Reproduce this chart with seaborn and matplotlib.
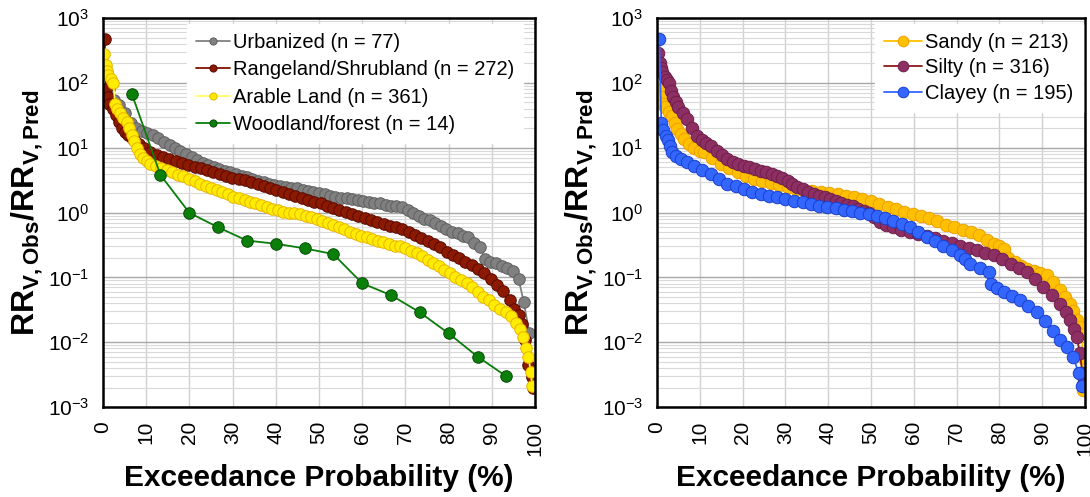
import matplotlib
matplotlib.use("Agg")
import matplotlib.pyplot as plt
import seaborn as sns
import pandas as pd

# ---------------- land use ----------------
urban_p = [1.3, 2.6, 3.8, 5.1, 6.4, 7.7, 9.0, 10.3, 11.5, 12.8, 14.1, 15.4, 16.7, 17.9,
           19.2, 20.5, 21.8, 23.1, 24.4, 25.6, 26.9, 28.2, 29.5, 30.8, 32.1, 33.3, 34.6,
           35.9, 37.2, 38.5, 39.7, 41.0, 42.3, 43.6, 44.9, 46.2, 47.4, 48.7, 50.0, 51.3,
           52.6, 53.8, 55.1, 56.4, 57.7, 59.0, 60.3, 61.5, 62.8, 64.1, 65.4, 66.7, 67.9,
           69.2, 70.5, 71.8, 73.1, 74.4, 75.6, 76.9, 78.2, 79.5, 80.8, 82.1, 83.3, 84.6,
           85.9, 87.2, 88.5, 89.7, 91.0, 92.3, 93.6, 94.9, 96.2, 97.4, 98.7]
urban_r = [80, 55, 45, 34, 24, 20, 18, 17, 15.5, 14, 12.3, 11, 10, 8.8,
           7.9, 7.1, 6.5, 5.9, 5.4, 5.0, 4.7, 4.4, 4.15, 3.95, 3.7, 3.5, 3.3,
           3.1, 2.95, 2.8, 2.7, 2.6, 2.5, 2.42, 2.35, 2.25, 2.15, 2.08, 2.0, 1.9,
           1.8, 1.75, 1.7, 1.65, 1.6, 1.55, 1.5, 1.46, 1.42, 1.38, 1.33, 1.28, 1.25,
           1.2, 1.08, 0.98, 0.88, 0.8, 0.76, 0.7, 0.62, 0.55, 0.5, 0.48, 0.44, 0.42,
           0.34, 0.29, 0.19, 0.175, 0.165, 0.15, 0.14, 0.125, 0.095, 0.042, 0.0137]

range_p = [0.4, 0.7, 1.1, 1.5, 2.2, 2.9, 3.6, 4.4, 5.1, 5.8, 6.6, 7.3, 8.4, 9.5, 10.9,
           12.4, 13.9, 15.3, 16.8, 18.2, 19.7, 21.2, 22.6, 24.1, 25.5, 27.0, 28.5, 29.9,
           31.4, 32.8, 34.3, 35.8, 37.2, 38.7, 40.1, 41.6, 43.1, 44.5, 46.0, 47.4, 48.9,
           50.4, 51.8, 53.3, 54.7, 56.2, 57.7, 59.1, 60.6, 62.0, 63.5, 65.0, 66.4, 67.9,
           69.3, 70.8, 72.3, 73.7, 75.2, 76.6, 78.1, 79.6, 81.0, 82.5, 83.9, 85.4, 86.9,
           88.3, 89.8, 91.2, 92.7, 94.2, 95.2, 96.2, 97.1, 97.8, 98.5, 99.3, 99.6]
range_r = [470, 80, 60, 48, 40, 32, 25, 20, 17.5, 15.5, 14, 12.8, 11.3, 9.8, 8.7,
           7.8, 7.1, 6.6, 6.2, 5.8, 5.4, 5.1, 4.8, 4.5, 4.2, 3.95, 3.7, 3.45,
           3.3, 3.15, 3.0, 2.8, 2.55, 2.35, 2.2, 2.1, 1.95, 1.8, 1.65, 1.55, 1.45,
           1.38, 1.28, 1.18, 1.1, 1.03, 0.96, 0.89, 0.83, 0.77, 0.72, 0.67, 0.63, 0.59,
           0.55, 0.51, 0.45, 0.41, 0.37, 0.33, 0.29, 0.25, 0.22, 0.2, 0.175, 0.155, 0.135,
           0.115, 0.095, 0.075, 0.062, 0.045, 0.033, 0.026, 0.019, 0.011, 0.0045, 0.0029, 0.002]

arable_p = [0.3, 0.6, 0.9, 1.2, 1.8, 2.4, 2.8, 3.3, 3.9, 4.7, 5.5, 6.1, 6.6, 7.2, 7.8,
            8.5, 9.3, 10.1, 10.9, 12.2, 13.5, 14.7, 16.0, 17.3, 18.6, 19.9, 21.2, 22.5,
            23.8, 25.0, 26.3, 27.6, 28.9, 30.2, 31.5, 32.8, 34.0, 35.3, 36.6, 37.9, 39.2,
            40.4, 41.7, 43.0, 44.3, 45.6, 46.9, 48.2, 49.5, 50.8, 52.0, 53.3, 54.6, 55.9,
            57.2, 58.5, 59.7, 61.0, 62.3, 63.6, 64.9, 66.2, 67.5, 68.8, 70.0, 71.3, 72.6,
            73.9, 75.2, 76.5, 77.8, 79.0, 80.3, 81.6, 82.9, 84.2, 85.5, 86.8, 88.0, 89.3,
            90.6, 91.9, 93.2, 94.5, 95.6, 96.5, 97.3, 98.0, 98.5, 99.0, 99.4]
arable_r = [275, 190, 150, 132, 115, 98, 48, 40, 34, 29, 25, 20, 15.7, 12.5, 9.8,
            8.0, 6.9, 6.2, 5.7, 5.2, 4.8, 4.5, 4.2, 3.85, 3.6, 3.3, 3.05, 2.8,
            2.6, 2.4, 2.2, 2.05, 1.9, 1.75, 1.65, 1.55, 1.47, 1.38, 1.3, 1.23, 1.15,
            1.08, 1.03, 1.0, 0.97, 0.95, 0.9, 0.85, 0.8, 0.74, 0.68, 0.64, 0.59, 0.55,
            0.51, 0.47, 0.44, 0.42, 0.39, 0.37, 0.35, 0.33, 0.31, 0.30, 0.28, 0.255, 0.234,
            0.21, 0.185, 0.164, 0.148, 0.13, 0.115, 0.103, 0.092, 0.081, 0.07, 0.06, 0.05, 0.044,
            0.038, 0.033, 0.029, 0.025, 0.02, 0.016, 0.012, 0.008, 0.006, 0.0035, 0.0021]

wood_p = [6.7, 13.3, 20.0, 26.7, 33.3, 40.0, 46.7, 53.3, 60.0, 66.7, 73.3, 80.0, 86.7, 93.3]
wood_r = [67, 3.8, 0.99, 0.59, 0.37, 0.33, 0.28, 0.229, 0.081, 0.053, 0.029, 0.0137, 0.006, 0.003]

# ---------------- soil texture ----------------
sandy_p = [0.5, 0.9, 1.4, 1.9, 2.8, 3.6, 4.2, 4.7, 5.5, 6.3, 7.5, 8.6, 10.0, 11.0, 12.9,
           14.9, 16.8, 18.8, 20.7, 22.7, 24.6, 26.6, 28.5, 30.5, 32.4, 34.4, 36.3, 38.3,
           40.2, 42.2, 44.1, 46.1, 48.0, 50.0, 51.9, 53.9, 55.8, 57.8, 59.7, 61.7, 63.6,
           65.5, 67.5, 69.4, 71.4, 73.3, 75.3, 77.2, 78.7, 80.0, 81.0, 82.1, 83.6, 85.0,
           86.5, 88.0, 89.6, 91.1, 92.6, 94.2, 95.4, 96.5, 97.3, 98.1, 98.8, 99.3, 99.5, 99.6]
sandy_r = [82, 60, 48, 42, 36, 31, 24, 19.4, 16, 13.6, 11.5, 10, 9.0, 8.5, 7.0,
           5.6, 4.8, 4.2, 3.7, 3.3, 3.1, 2.9, 2.65, 2.45, 2.3, 2.2, 2.12, 2.06,
           2.0, 1.94, 1.82, 1.72, 1.62, 1.5, 1.36, 1.22, 1.12, 1.02, 0.95, 0.89, 0.83,
           0.74, 0.65, 0.59, 0.54, 0.5, 0.45, 0.38, 0.33, 0.3, 0.276, 0.2, 0.17, 0.15,
           0.136, 0.125, 0.115, 0.107, 0.085, 0.063, 0.05, 0.039, 0.03, 0.022, 0.017, 0.0136, 0.006, 0.0018]

silty_p = [0.3, 0.6, 0.9, 1.2, 1.8, 2.4, 2.8, 3.3, 3.8, 4.4, 5.0, 6.0, 7.1, 8.2, 9.4,
           10.5, 11.5, 12.6, 14.0, 15.2, 16.4, 17.7, 19.0, 20.3, 21.6, 22.9, 24.2, 25.5,
           26.8, 28.1, 29.3, 30.5, 31.6, 32.8, 34.0, 35.3, 36.6, 37.9, 39.2, 40.5, 41.8,
           43.1, 44.4, 45.7, 47.0, 48.3, 49.6, 50.8, 52.1, 53.6, 55.2, 57.1, 59.1, 61.0,
           63.0, 64.9, 66.9, 68.9, 70.9, 72.8, 74.8, 76.7, 78.7, 80.6, 82.6, 84.5, 86.5,
           88.4, 90.3, 92.2, 94.2, 95.5, 96.5, 97.4, 98.1, 98.8, 99.4, 99.7]
silty_r = [290, 200, 170, 145, 125, 110, 100, 75, 60, 50, 42, 34, 27.5, 20, 15.3,
           13, 11.7, 10.7, 9.0, 7.8, 6.7, 6.0, 5.6, 5.3, 5.0, 4.7, 4.4, 4.15,
           3.9, 3.7, 3.45, 3.1, 2.8, 2.5, 2.3, 2.1, 1.95, 1.82, 1.72, 1.62, 1.52,
           1.42, 1.33, 1.25, 1.15, 1.07, 0.98, 0.85, 0.72, 0.65, 0.59, 0.54, 0.50, 0.47,
           0.44, 0.4, 0.37, 0.34, 0.31, 0.28, 0.26, 0.24, 0.22, 0.19, 0.162, 0.14, 0.121,
           0.095, 0.071, 0.053, 0.039, 0.029, 0.022, 0.016, 0.012, 0.0067, 0.0033, 0.0025]

clay_p = [0.5, 1.0, 1.5, 2.0, 2.5, 3.0, 3.6, 4.5, 5.5, 7.0, 8.7, 10.5, 12.6, 14.5, 16.4,
          18.4, 20.3, 22.2, 24.2, 26.2, 28.1, 30.0, 32.0, 34.0, 35.9, 37.8, 39.8, 41.7,
          43.7, 45.6, 47.5, 49.5, 51.4, 53.3, 55.2, 57.2, 59.1, 61.0, 63.0, 64.9, 66.9,
          68.9, 70.9, 72.0, 73.2, 75.4, 77.5, 78.0, 79.5, 81.0, 83.0, 84.9, 86.8, 88.8,
          90.7, 92.6, 94.2, 95.8, 97.3, 98.5, 99.3]
clay_r = [480, 24, 19, 15, 13, 10.5, 8.5, 7.5, 6.7, 6.0, 5.3, 4.6, 3.9, 3.3, 2.8,
          2.55, 2.3, 2.1, 1.94, 1.82, 1.72, 1.62, 1.53, 1.44, 1.36, 1.28, 1.22, 1.16,
          1.1, 1.05, 1.0, 0.96, 0.9, 0.82, 0.75, 0.67, 0.59, 0.5, 0.42, 0.36, 0.3,
          0.26, 0.22, 0.19, 0.162, 0.14, 0.121, 0.08, 0.068, 0.059, 0.051, 0.044, 0.036, 0.029,
          0.021, 0.015, 0.011, 0.0085, 0.0059, 0.0033, 0.0021]

left_labels = ["Urbanized (n = 77)", "Rangeland/Shrubland (n = 272)",
               "Arable Land (n = 361)", "Woodland/forest (n = 14)"]
right_labels = ["Sandy (n = 213)", "Silty (n = 316)", "Clayey (n = 195)"]
xtick_vals = list(range(0, 101, 10))
xtick_labels = [str(v) for v in xtick_vals]
ytick_vals = [1e-3, 1e-2, 1e-1, 1e0, 1e1, 1e2, 1e3]

sns.set_theme(style="white")
plt.rcParams["font.family"] = ["Liberation Sans", "DejaVu Sans"]
plt.rcParams["mathtext.fontset"] = "custom"
plt.rcParams["mathtext.rm"] = "Liberation Sans"
plt.rcParams["mathtext.it"] = "Liberation Sans:italic"
plt.rcParams["mathtext.bf"] = "Liberation Sans:bold"
for key in ("text.color", "axes.labelcolor", "xtick.color", "ytick.color"):
    plt.rcParams[key] = "black"

fig = plt.figure(figsize=(10.9, 4.97), dpi=100)
ax1 = fig.add_axes([0.0945, 0.181, 0.3963, 0.7827])
ax2 = fig.add_axes([0.6028, 0.181, 0.3926, 0.7827])

# (label, p, r, line colour, face colour, edge colour)
left_series = [
    (left_labels[0], urban_p, urban_r, "#808080", "#808080", "#5f5f5f"),
    (left_labels[1], range_p, range_r, "#7f1100", "#8b1a00", "#5a0a00"),
    (left_labels[2], arable_p, arable_r, "#ffff66", "#ffec00", "#e8b400"),
    (left_labels[3], wood_p, wood_r, "#0a7d0a", "#0a800a", "#064d06"),
]
right_series = [
    (right_labels[0], sandy_p, sandy_r, "#ffc000", "#ffc000", "#f0a000"),
    (right_labels[1], silty_p, silty_r, "#8b1a1a", "#8e2f64", "#6e1f4a"),
    (right_labels[2], clay_p, clay_r, "#3366ff", "#3366ff", "#1a3fcc"),
]


def draw(ax, series, msize):
    for label, p, r, lc, fc, ec in series:
        df = pd.DataFrame({"p": p, "r": r})
        sns.lineplot(data=df, x="p", y="r", ax=ax, color=lc, lw=1.3,
                     marker="o", markersize=msize, markerfacecolor=fc,
                     markeredgecolor=ec, markeredgewidth=0.7,
                     estimator=None, sort=False, label=label)


def style(ax):
    ax.set_yscale("log")
    ax.set_xlim(0, 100)
    ax.set_ylim(1e-3, 1e3)
    ax.set_xticks(xtick_vals)
    ax.set_xticklabels(xtick_labels, rotation=90)
    ax.set_yticks(ytick_vals)
    ax.grid(which="major", axis="x", color="#d0d0d0", lw=1.0)
    ax.grid(which="major", axis="y", color="#a8a8a8", lw=1.0)
    ax.grid(which="minor", axis="y", color="#d9d9d9", lw=0.8)
    ax.set_axisbelow(True)
    ax.tick_params(axis="both", which="major", direction="inout", length=12,
                   width=1.6, color="black", labelsize=15, pad=4)
    ax.tick_params(axis="y", which="minor", length=0)
    for s in ax.spines.values():
        s.set_color("black")
        s.set_linewidth(1.8)
    ax.set_xlabel("Exceedance Probability (%)", fontsize=21.5, fontweight="bold", labelpad=6)
    ax.set_ylabel(r"$\mathbf{RR_{V,Obs}/RR_{V,Pred}}$", fontsize=23, labelpad=2)


draw(ax1, left_series, 8.3)
draw(ax2, right_series, 9.0)
style(ax1)
style(ax2)

leg_kw = dict(frameon=True, facecolor="white", edgecolor="white", framealpha=1,
              fancybox=False, fontsize=14.5, handletextpad=0.15, borderaxespad=0,
              borderpad=0.45)
ax1.legend(loc="upper left", bbox_to_anchor=(0.194, 0.985), markerscale=0.62,
           handlelength=1.7, labelspacing=0.42, **leg_kw)
ax2.legend(loc="upper left", bbox_to_anchor=(0.509, 0.985), markerscale=0.85,
           handlelength=1.9, labelspacing=0.32, **leg_kw)

fig.savefig("out.png", dpi=100)
